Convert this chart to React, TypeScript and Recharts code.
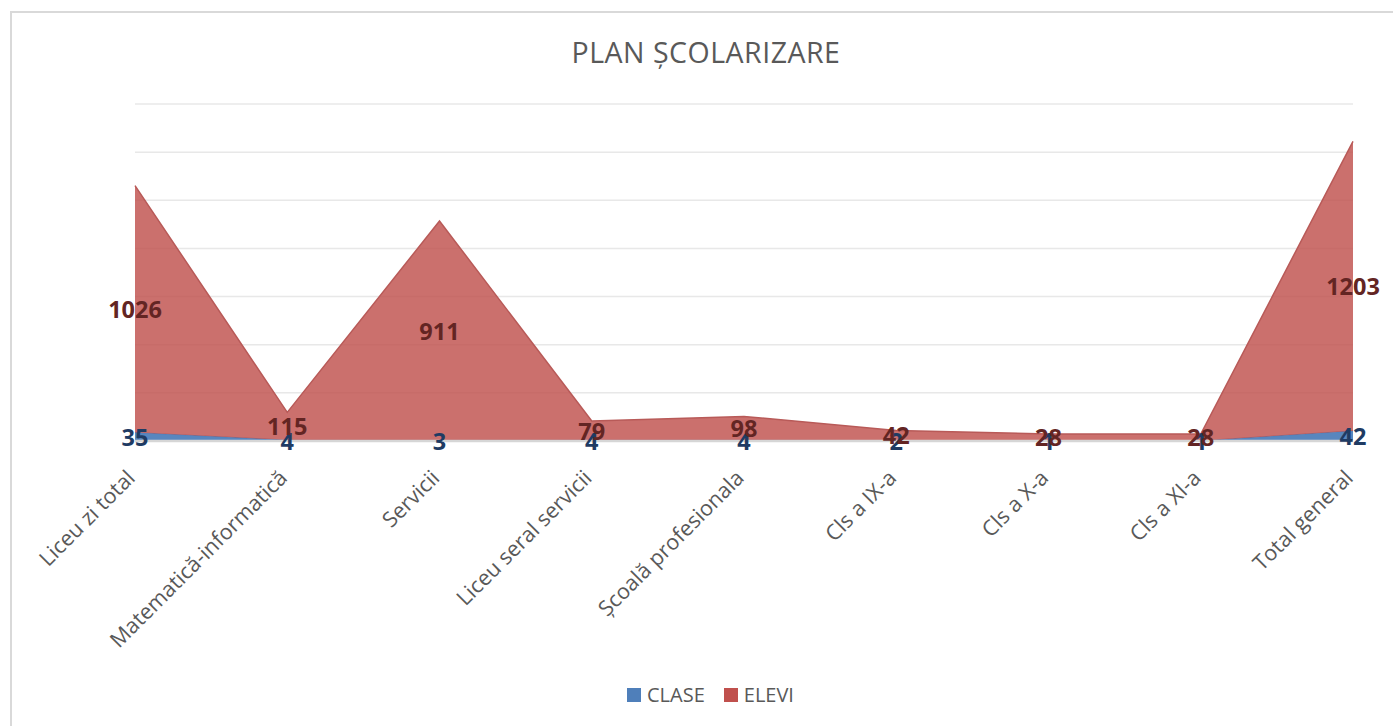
import React from "react";
import { ComposedChart, Area, Line, XAxis, YAxis, CartesianGrid, Legend, LabelList } from "recharts";

const categories = [
  "Liceu zi total",
  "Matematică-informatică",
  "Servicii",
  "Liceu seral servicii",
  "Școală profesionala",
  "Cls a IX-a",
  "Cls a X-a",
  "Cls a XI-a",
  "Total general",
];
const clase = [35, 4, 3, 4, 4, 2, 1, 1, 42];
const elevi = [1026, 115, 911, 79, 98, 42, 28, 28, 1203];
const yTicks = [0, 200, 400, 600, 800, 1000, 1200, 1400];

const data = categories.map((name, i) => ({ name, clase: clase[i], elevi: elevi[i] }));

const FONT = "'Open Sans', sans-serif";
const BLUE = "#4f7fba";
const RED = "#c0504d";

function CategoryTick(props: any) {
  const { x, y, payload } = props;
  return (
    <g transform={`translate(${x - 4},${y + 25})`}>
      <text
        x={0}
        y={0}
        dy="0.35em"
        textAnchor="end"
        transform="rotate(-45)"
        fill="#595959"
        fontSize={21.5}
        fontFamily={FONT}
      >
        {payload.value}
      </text>
    </g>
  );
}

const valueLabel = (color: string) => (props: any) => {
  const { x, y, value } = props;
  return (
    <text
      x={x}
      y={y}
      textAnchor="middle"
      dominantBaseline="central"
      fill={color}
      fontSize={23.5}
      fontWeight={700}
      fontFamily={FONT}
    >
      {value}
    </text>
  );
};

function LegendContent() {
  const items = [
    { name: "CLASE", color: BLUE },
    { name: "ELEVI", color: RED },
  ];
  return (
    <div style={{ display: "flex", alignItems: "center", height: 18, fontFamily: FONT, fontSize: 20, color: "#595959" }}>
      {items.map((it) => (
        <div key={it.name} style={{ display: "flex", alignItems: "center", marginRight: 19 }}>
          <span style={{ display: "inline-block", width: 14, height: 14, background: it.color, marginRight: 6 }} />
          <span style={{ lineHeight: "18px" }}>{it.name}</span>
        </div>
      ))}
    </div>
  );
}

export default function App() {
  return (
    <div
      style={{
        position: "fixed",
        left: 0,
        top: 0,
        width: 1393,
        height: 726,
        overflow: "hidden",
        background: "#fff",
      }}
    >
      <div
        style={{
          position: "absolute",
          left: 10,
          top: 11,
          width: 1400,
          height: 730,
          border: "2px solid #d9d9d9",
          boxSizing: "border-box",
        }}
      />
      <div
        style={{
          position: "absolute",
          left: 0,
          top: 38,
          width: 1412,
          textAlign: "center",
          fontFamily: FONT,
          fontSize: 28.5,
          lineHeight: 1,
          color: "#595959",
          letterSpacing: 0.5,
        }}
      >
        PLAN ȘCOLARIZARE
      </div>
      <div style={{ position: "absolute", left: 0, top: 0 }}>
        <ComposedChart width={1393} height={726} data={data} margin={{ top: 104, right: 40, left: 135, bottom: 0 }}>
          <CartesianGrid vertical={false} stroke="#e8e8e8" strokeWidth={1.5} />
          <XAxis
            dataKey="name"
            height={285}
            interval={0}
            tickLine={false}
            axisLine={{ stroke: "#d6d6d6", strokeWidth: 2.5 }}
            tick={<CategoryTick />}
          />
          <YAxis hide domain={[0, 1400]} ticks={yTicks} />
          <Area
            type="linear"
            dataKey="clase"
            name="CLASE"
            stackId="s"
            stroke={BLUE}
            strokeWidth={1}
            fill={BLUE}
            fillOpacity={0.95}
            isAnimationActive={false}
          />
          <Area
            type="linear"
            dataKey="elevi"
            name="ELEVI"
            stackId="s"
            stroke="#b85a58"
            strokeWidth={1.5}
            fill={RED}
            fillOpacity={0.82}
            isAnimationActive={false}
          />
          <Line
            dataKey={(d: any) => d.clase / 2}
            stroke="none"
            dot={false}
            activeDot={false}
            legendType="none"
            isAnimationActive={false}
          >
            <LabelList dataKey="clase" content={valueLabel("#1f3b63")} />
          </Line>
          <Line
            dataKey={(d: any) => d.clase + d.elevi / 2}
            stroke="none"
            dot={false}
            activeDot={false}
            legendType="none"
            isAnimationActive={false}
          >
            <LabelList dataKey="elevi" content={valueLabel("#632523")} />
          </Line>
          <Legend
            layout="horizontal"
            verticalAlign="middle"
            align="center"
            content={<LegendContent />}
            wrapperStyle={{ left: 627, top: 686, width: "auto", height: 18 }}
          />
        </ComposedChart>
      </div>
    </div>
  );
}
